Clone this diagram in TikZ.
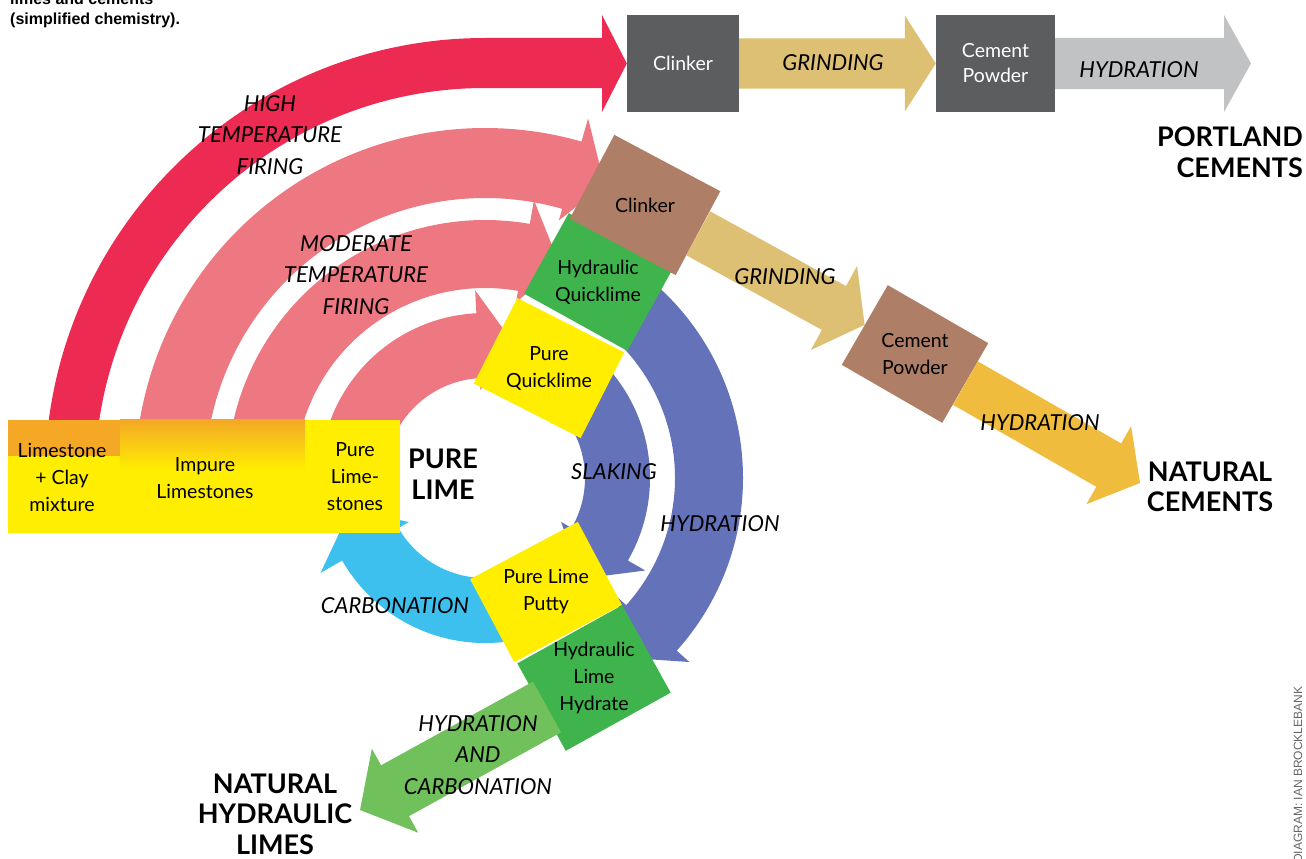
\documentclass[tikz,border=0pt]{standalone}
\usepackage{fontspec}
\setmainfont{Lato}
\newfontfamily\creditfont{Liberation Sans}
\usetikzlibrary{calc}

\definecolor{firered}{RGB}{236,42,82}
\definecolor{firingpink}{RGB}{238,120,130}
\definecolor{slakeblue}{RGB}{100,114,186}
\definecolor{carbblue}{RGB}{62,192,238}
\definecolor{limeyellow}{RGB}{255,238,0}
\definecolor{clayorange}{RGB}{244,168,38}
\definecolor{quickgreen}{RGB}{64,180,76}
\definecolor{setgreen}{RGB}{112,192,92}
\definecolor{clinkerbrown}{RGB}{174,126,102}
\definecolor{kilngrey}{RGB}{92,93,95}
\definecolor{curegrey}{RGB}{192,194,196}
\definecolor{grindtan}{RGB}{222,192,116}
\definecolor{curegold}{RGB}{240,188,62}

% ring arrow round (ctr): colour, r in, r out, start, end, wing in, wing out, head length
\newcommand{\ringarrow}[8]{%
  \fill[#1] ($(ctr)+(#4:#2)$) arc[start angle=#4, end angle=#5, radius=#2]
    -- ($(ctr)+(#5:#6)$) -- ($(ctr)+(#5:{(#2+#3)/2})+({#5-90}:#8)$) -- ($(ctr)+(#5:#7)$)
    -- ($(ctr)+(#5:#3)$) arc[start angle=#5, end angle=#4, radius=#3] -- cycle;}
% straight arrow: colour, from, to, half body, half head, head length
\newcommand{\flatarrow}[6]{%
  \fill[#1] let \p1 = ($(#3)-(#2)$), \n1 = {atan2(\y1,\x1)}, \n2 = {veclen(\x1,\y1)} in
    [shift={(#2)}, rotate=\n1]
    (0,#4) -- ({\n2-#6},#4) -- ({\n2-#6},#5) -- (\n2,0) -- ({\n2-#6},-#5) -- ({\n2-#6},-#4) -- (0,-#4) -- cycle;}

\begin{document}
\begin{tikzpicture}[x=1pt, y=1pt,
  tiltbox/.style = {rectangle, inner sep=0pt},
  kilnbox/.style = {rectangle, inner sep=0pt, fill=kilngrey, text=white, align=center, font=\fontsize{19.5}{25}\selectfont},
  boxlabel/.style = {inner sep=0pt, align=center, font=\fontsize{19.5}{27}\selectfont},
  process/.style = {inner sep=0pt, align=center, font=\fontsize{22}{31.5}\selectfont\itshape},
  product/.style = {inner sep=0pt, align=center, font=\fontsize{27}{30.5}\selectfont\bfseries}
]
\useasboundingbox (0,0) rectangle (1306,-859);

\coordinate (ctr) at (485,-478);

% portland line
\node (clinkertop)[kilnbox, minimum width=112pt, minimum height=97pt] at (683,-63.5) {Clinker};
\node (powdertop)[kilnbox, minimum width=119pt, minimum height=97pt] at (995.5,-63.5) {Cement\\Powder};
\coordinate (portlandtip) at (1251,-63.5);
\flatarrow{grindtan}{clinkertop.east}{powdertop.west}{25}{48}{31}
\flatarrow{curegrey}{powdertop.east}{portlandtip}{25.5}{48.5}{27}

% firing
\fill[firered] ($(ctr)+(180:390)$) arc[start angle=180, end angle=90, radius=390] -- (602,-88) -- (602,-112)
  -- (clinkertop.west) -- (602,-15) -- (602,-38) -- ($(ctr)+(90:440)$) arc[start angle=90, end angle=180, radius=440] -- cycle;
\ringarrow{firingpink}{280}{350}{180}{74}{268}{374}{34}
\ringarrow{firingpink}{190}{258}{180}{80}{178}{282}{36}
\ringarrow{firingpink}{100}{165}{180}{93}{88}{188}{36}

% slaking, hydration, carbonation
\ringarrow{slakeblue}{100}{165}{50}{-30}{88}{185}{40}
\ringarrow{slakeblue}{190}{258}{55}{-42}{178}{275}{40}
\ringarrow{carbblue}{100}{165}{-75}{-150}{88}{190}{40}

% stones
\node (stonebed)[tiltbox, fill=limeyellow, minimum width=392pt, minimum height=113pt] at (204,-476.5) {};
\shade[top color=clayorange, bottom color=limeyellow] ($(stonebed.north west)+(112,0)$) rectangle ($(stonebed.north west)+(297,-50)$);
\fill[clayorange] (stonebed.north west) rectangle ++(112,-36);

\node (purequick)[tiltbox, fill=limeyellow, rotate=-27, minimum width=120pt, minimum height=96pt] at (549,-368) {};
\node (hydquick)[tiltbox, fill=quickgreen, rotate=-29, minimum width=118pt, minimum height=92pt] at (598,-282) {};
\node (clinkerlow)[tiltbox, fill=clinkerbrown, rotate=-28, minimum width=120pt, minimum height=95pt] at (645,-205) {};
\node (putty)[tiltbox, fill=limeyellow, rotate=28, minimum width=122pt, minimum height=94pt] at (546,-592) {};
\node (hydrate)[tiltbox, fill=quickgreen, rotate=29, minimum width=120pt, minimum height=100pt] at (594,-678) {};
\node (powderlow)[tiltbox, fill=clinkerbrown, rotate=-30, minimum width=116pt, minimum height=92pt] at (915,-354) {};

% natural cements
\coordinate (nctip) at (1140,-483);
\flatarrow{grindtan}{clinkerlow.east}{powderlow.west}{25}{48}{35}
\flatarrow{curegold}{powderlow.east}{nctip}{25}{45}{36}

% natural hydraulic limes
\coordinate (nhlstart) at (547,-707);
\coordinate (nhltip) at (360,-810);
\flatarrow{setgreen}{nhlstart}{nhltip}{29}{48}{40}

\node (claymix)[boxlabel] at (62,-477) {Limestone\\+ Clay\\mixture};
\node (impure)[boxlabel] at (205,-478) {Impure\\Limestones};
\node (purestone)[boxlabel] at (355,-477) {Pure\\Lime-\\stones};
\node (purequicktext)[boxlabel] at (purequick) {Pure\\Quicklime};
\node (hydquicktext)[boxlabel] at (hydquick) {Hydraulic\\Quicklime};
\node (clinkerlowtext)[boxlabel] at (clinkerlow) {Clinker};
\node (puttytext)[boxlabel] at (putty) {Pure Lime\\Putty};
\node (hydratetext)[boxlabel] at (hydrate) {Hydraulic\\Lime\\Hydrate};
\node (powderlowtext)[boxlabel] at (powderlow) {Cement\\Powder};

\node (hightemp)[process] at (270,-135) {HIGH\\TEMPERATURE\\FIRING};
\node (modtemp)[process] at (356,-275) {MODERATE\\TEMPERATURE\\FIRING};
\node (slaking)[process] at (614,-472) {SLAKING};
\node (hydlime)[process] at (720,-524) {HYDRATION};
\node (carbonation)[process] at (395,-606) {CARBONATION};
\node (setting)[process] at (478,-755) {HYDRATION\\AND\\CARBONATION};
\node (grindtop)[process] at (833,-63) {GRINDING};
\node (curetop)[process] at (1139,-70) {HYDRATION};
\node (grindlow)[process] at (785,-277) {GRINDING};
\node (curelow)[process] at (1040,-423) {HYDRATION};

\node (purelime)[product] at (443,-474) {PURE\\LIME};
\node (portland)[product, align=right, anchor=east] at (1303,-152) {PORTLAND\\CEMENTS};
\node (natcement)[product] at (1210,-487) {NATURAL\\CEMENTS};
\node (nathydr)[product] at (275,-814) {NATURAL\\HYDRAULIC\\LIMES};

\node (captop)[inner sep=0pt, anchor=base west, font=\creditfont\bfseries\fontsize{16}{18}\selectfont] at (10,-5) {limes and cements};
\node (caption)[inner sep=0pt, anchor=base west, font=\creditfont\bfseries\fontsize{16}{18}\selectfont] at (10,-25) {(simplified chemistry).};
\node (credit)[rotate=90, anchor=base west, inner sep=0pt, text=black!60, font=\creditfont\fontsize{12}{14}\selectfont] at (1302,-863) {DIAGRAM: IAN BROCKLEBANK};
\end{tikzpicture}
\end{document}
